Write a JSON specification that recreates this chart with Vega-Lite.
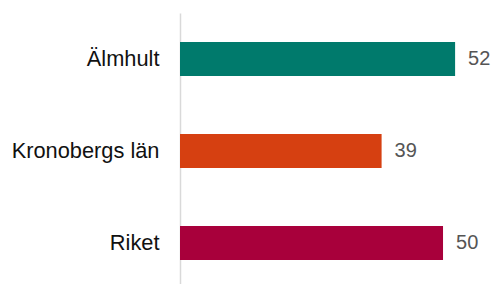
{
  "$schema": "https://vega.github.io/schema/vega-lite/v6.json",
  "autosize": "none",
  "width": 315,
  "height": 276,
  "padding": {"left": 180, "top": 13, "right": 2, "bottom": 0},
  "background": "white",
  "config": {"view": {"stroke": null}, "font": "Liberation Sans"},
  "data": {
    "values": [
      {"region": "Älmhult", "value": 52.4, "label": 52, "color": "#007A6C"},
      {"region": "Kronobergs län", "value": 38.4, "label": 39, "color": "#D64011"},
      {"region": "Riket", "value": 50.1, "label": 50, "color": "#A8003B"}
    ]
  },
  "encoding": {
    "y": {
      "field": "region",
      "type": "nominal",
      "sort": null,
      "scale": {"paddingInner": 0.63, "paddingOuter": 0.315},
      "axis": {
        "title": null,
        "ticks": false,
        "labelPadding": 21,
        "labelFontSize": 21.8,
        "labelColor": "#111111",
        "labelFont": "Liberation Sans",
        "domainColor": "#d9d9d9",
        "domainWidth": 1.5
      }
    },
    "x": {
      "field": "value",
      "type": "quantitative",
      "scale": {"domain": [0, 60]},
      "axis": null
    }
  },
  "layer": [
    {
      "mark": {"type": "bar"},
      "encoding": {
        "color": {"field": "color", "type": "nominal", "scale": null}
      }
    },
    {
      "mark": {"type": "text", "align": "left", "dx": 13, "fontSize": 20, "color": "#555555", "font": "Liberation Sans"},
      "encoding": {
        "text": {"field": "label", "type": "quantitative"}
      }
    }
  ]
}
